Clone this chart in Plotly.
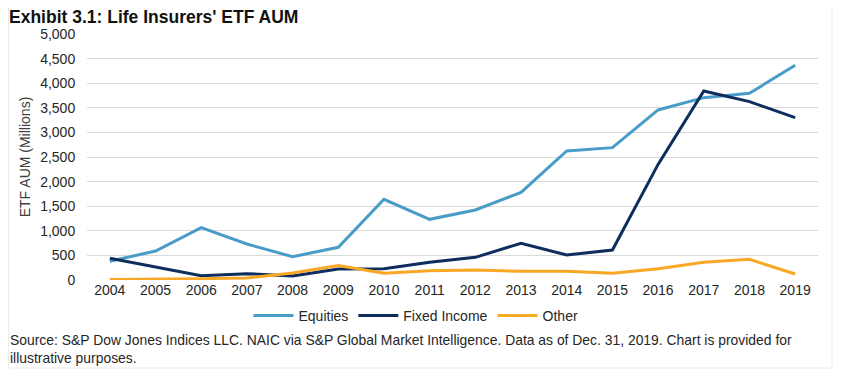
import plotly.graph_objects as go

years = [str(y) for y in range(2004, 2020)]
equities = [380, 590, 1063, 732, 474, 664, 1640, 1233, 1423, 1782, 2622, 2690, 3456, 3706, 3795, 4364]
fixed_income = [441, 268, 88, 129, 81, 224, 230, 360, 461, 746, 508, 610, 2350, 3841, 3625, 3300]
other = [10, 12, 27, 40, 142, 292, 136, 190, 203, 176, 176, 136, 230, 359, 420, 122]

series = [
    ("Equities", equities, "#4A9CC8"),
    ("Fixed Income", fixed_income, "#0D2E5C"),
    ("Other", other, "#F9A825"),
]

FONT = "Liberation Sans, Arial, sans-serif"

# figure geometry (figure is drawn with an 8px page offset)
L, T, PW, PH = 79, 26, 731, 246
W, H = 833, 367

fig = go.Figure()
for name, vals, color in series:
    fig.add_trace(go.Scatter(x=years, y=vals, name=name, mode="lines",
                             line=dict(color=color, width=3)))

fig.update_layout(
    width=W, height=H,
    margin=dict(l=L, r=W - L - PW, t=T, b=H - T - PH),
    paper_bgcolor="white", plot_bgcolor="white",
    font=dict(family=FONT, size=14, color="#262626"),
    showlegend=True,
    legend=dict(orientation="h", x=(408 - L) / PW, xanchor="center", y=-36 / PH, yanchor="middle",
                font=dict(size=14, color="#262626"), itemwidth=40, tracegroupgap=0,
                bgcolor="rgba(0,0,0,0)"),
    xaxis=dict(type="category", range=[-0.5, 15.5], showgrid=False, zeroline=False,
               showline=False, ticks="", tickfont=dict(size=14, color="#262626")),
    yaxis=dict(range=[0, 5000], dtick=500, tickformat=",", showgrid=True,
               gridcolor="#D9D9D9", gridwidth=1, zeroline=False, showline=False,
               ticks="outside", ticklen=8, tickcolor="white",
               tickfont=dict(size=14, color="#262626"),
               title=dict(text="ETF AUM (Millions)", font=dict(size=14, color="#404040"), standoff=6)),
    annotations=[
        dict(text="<b>Exhibit 3.1: Life Insurers' ETF AUM</b>", xref="paper", yref="paper",
             x=(-1 - L) / PW, y=1 + (T - 9) / PH, xanchor="left", yanchor="middle", showarrow=False,
             font=dict(size=17.5, color="#111111")),
        dict(text="Source: S&P Dow Jones Indices LLC. NAIC via S&P Global Market Intelligence. Data as of Dec. 31, 2019. Chart is provided for<br>illustrative purposes.",
             xref="paper", yref="paper", x=(0 - L) / PW, y=-(322 - 272) / PH,
             xanchor="left", yanchor="top", align="left", showarrow=False,
             font=dict(size=13.9, color="#262626")),
    ],
    shapes=[
        dict(type="rect", xref="paper", yref="paper",
             x0=(0.5 - L) / PW, x1=(824 - L) / PW, y0=-(360 - 272) / PH, y1=1 + 27 / PH,
             line=dict(color="#EBEBEB", width=1), fillcolor="rgba(0,0,0,0)", layer="below"),
    ],
)

fig.write_html("out.html")
